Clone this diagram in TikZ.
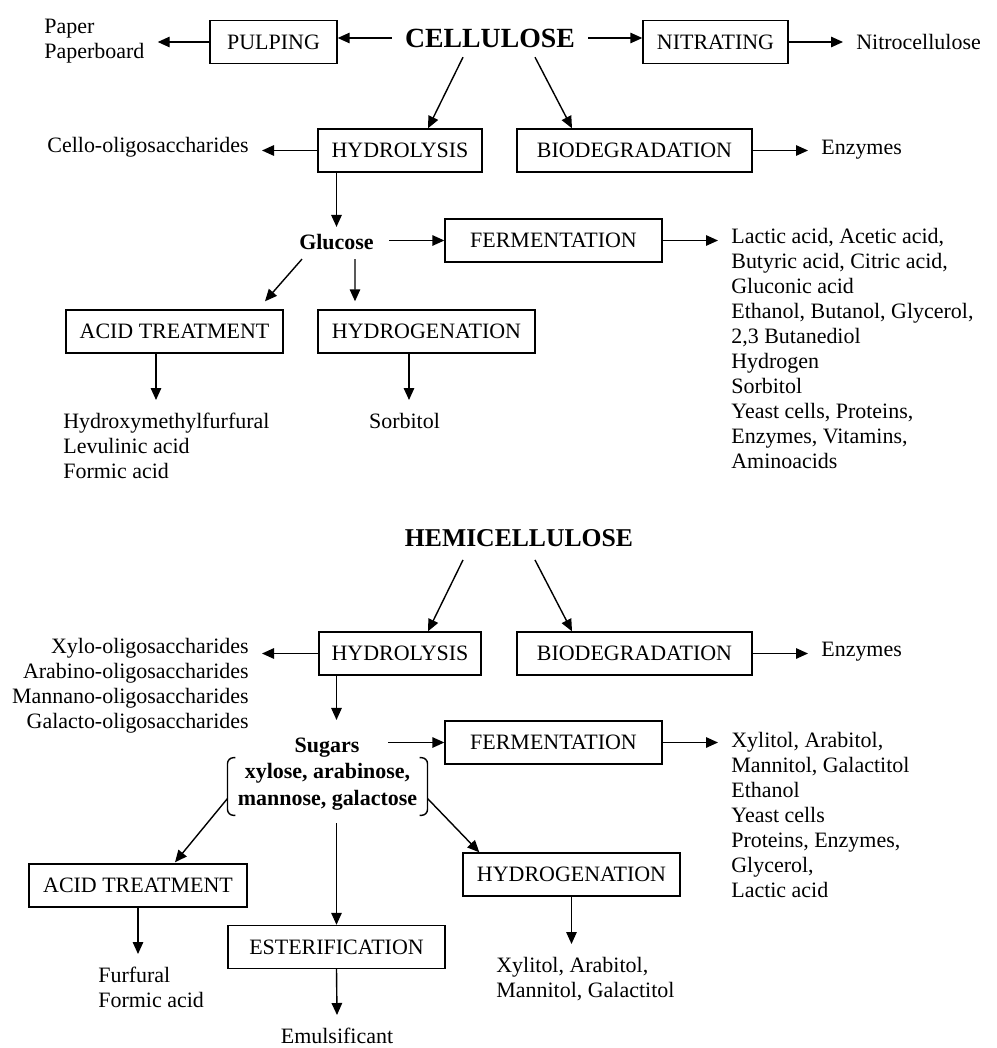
\documentclass[tikz,border=0pt]{standalone}
\usepackage{fontspec}
\setmainfont{Liberation Serif}
\usetikzlibrary{arrows.meta,calc,positioning}

\begin{document}
\begin{tikzpicture}[x=0.02cm, y=-0.02cm,
  every node/.style={font=\fontsize{12.5}{14.2}\selectfont},
  proc/.style={draw, line width=0.8pt, minimum height=0.86cm, minimum width=#1, inner xsep=0pt},
  prod/.style={inner sep=0.26cm, align=left},
  title/.style={font=\fontsize{15.8}{18}\selectfont\bfseries, inner xsep=0.26cm, inner ysep=0.19cm},
  sugar/.style={font=\fontsize{12.5}{15.3}\selectfont\bfseries, inner xsep=0.3cm, inner ysep=0.14cm},
  arr/.style={-{Triangle[length=0.24cm,width=0.21cm]}, line width=0.8pt}]
\useasboundingbox (0,0) rectangle (997,1048);

\node[title] (cell) at (490,38) {CELLULOSE};
\node[proc=2.54cm] (pulp) at (273.5,42) {PULPING};
\node[proc=2.9cm] (nitr) at (715.5,42) {NITRATING};
\node[prod, anchor=west] (paper) at (31,41) {Paper\\Paperboard};
\node[prod, anchor=west] (nitrocell) at (843,42) {Nitrocellulose};
\node[proc=3.28cm] (hyd1) at (400,150.5) {HYDROLYSIS};
\node[proc=4.7cm] (bio1) at (634.5,150.5) {BIODEGRADATION};
\node[prod, anchor=east] (cello) at (262,147) {Cello-oligosaccharides};
\node[prod, anchor=west] (enz1) at (808,150) {Enzymes};
\node[sugar] (gluc) at (336.5,242) {Glucose};
\node[proc=4.34cm] (ferm1) at (553.5,240.5) {FERMENTATION};
\node[prod, anchor=north west] (list1) at (718,215) {Lactic acid, Acetic acid,\\Butyric acid, Citric acid,\\Gluconic acid\\Ethanol, Butanol, Glycerol,\\2,3 Butanediol\\Hydrogen\\Sorbitol\\Yeast cells, Proteins,\\Enzymes, Vitamins,\\Aminoacids};
\node[proc=4.34cm] (acid1) at (174.5,331.5) {ACID TREATMENT};
\node[proc=4.34cm] (hydg1) at (426.5,331.5) {HYDROGENATION};
\node[prod, anchor=north west] (hmf) at (50,400) {Hydroxymethylfurfural\\Levulinic acid\\Formic acid};
\node[prod, anchor=north] (sorb) at (404.5,400) {Sorbitol};
\coordinate (a1) at ($(acid1.south)+(-18.5,0)$);
\coordinate (h1) at ($(hydg1.south)+(-17.5,0)$);

\draw[arr] (cell.west) -- (cell.west -| pulp.east);
\draw[arr] (pulp.west) -- (pulp.west -| paper.east);
\draw[arr] (cell.east) -- (cell.east -| nitr.west);
\draw[arr] (nitr.east) -- (nitr.east -| nitrocell.west);
\draw[arr] ($(cell.south)+(-27,0)$) -- ($(hyd1.north)+(28,0)$);
\draw[arr] ($(cell.south)+(45,0)$) -- ($(bio1.north)+(-62.5,0)$);
\draw[arr] (hyd1.west) -- (hyd1.west -| cello.east);
\draw[arr] (bio1.east) -- (bio1.east -| enz1.west);
\draw[arr] (gluc.north |- hyd1.south) -- (gluc.north);
\draw[arr] (ferm1.west -| gluc.east) -- (ferm1.west);
\draw[arr] (ferm1.east) -- (ferm1.east -| list1.west);
\draw[arr] ($(gluc.south)+(-34.5,2)$) -- ($(acid1.north)+(90.5,-8)$);
\draw[arr] ($(gluc.south)+(18.5,2)$) -- ($(hydg1.north)+(-71.5,-8)$);
\draw[arr] (a1) -- (a1 |- hmf.north);
\draw[arr] (h1) -- (h1 |- sorb.north);

\node[title, font=\fontsize{14.6}{17}\selectfont\bfseries, inner ysep=0.26cm] (hemi) at (519,538) {HEMICELLULOSE};
\node[proc=3.24cm] (hyd2) at (400,653.5) {HYDROLYSIS};
\node[proc=4.7cm] (bio2) at (634.5,653.5) {BIODEGRADATION};
\node[prod, anchor=north east, align=right] (oligo) at (262,625) {Xylo-oligosaccharides\\Arabino-oligosaccharides\\Mannano-oligosaccharides\\Galacto-oligosaccharides};
\node[prod, anchor=west] (enz2) at (808,652) {Enzymes};
\node[sugar, inner xsep=0.57cm, inner ysep=0.36cm] (sug) at (327,748) {Sugars};
\node[sugar, inner xsep=0.2cm, inner ysep=0.1cm, align=center] (suglist) at (327.5,786.5) {xylose, arabinose,\\mannose, galactose};
\node[proc=4.34cm] (ferm2) at (553.5,742.5) {FERMENTATION};
\node[prod, anchor=north west] (list2) at (718,719) {Xylitol, Arabitol,\\Mannitol, Galactitol\\Ethanol\\Yeast cells\\Proteins, Enzymes,\\Glycerol,\\Lactic acid};
\node[proc=4.36cm] (acid2) at (138,885.5) {ACID TREATMENT};
\node[proc=4.34cm] (est) at (336.5,947) {ESTERIFICATION};
\node[proc=4.34cm] (hydg2) at (571.5,874.5) {HYDROGENATION};
\node[prod, anchor=north west] (furf) at (85,954) {Furfural\\Formic acid};
\node[prod, anchor=north] (emul) at (337,1015) {Emulsificant};
\node[prod, anchor=north west] (xylit) at (483,944) {Xylitol, Arabitol,\\Mannitol, Galactitol};

\draw[line width=0.8pt, rounded corners=0.12cm] ($(suglist.north west)+(8,0)$) -- (suglist.north west) -- (suglist.south west) -- ($(suglist.south west)+(8,0)$);
\draw[line width=0.8pt, rounded corners=0.12cm] ($(suglist.north east)+(-8,0)$) -- (suglist.north east) -- (suglist.south east) -- ($(suglist.south east)+(-8,0)$);

\draw[arr] ($(hemi.south)+(-56,0)$) -- ($(hyd2.north)+(28,0)$);
\draw[arr] ($(hemi.south)+(16,0)$) -- ($(bio2.north)+(-62.5,0)$);
\draw[arr] (hyd2.west) -- (hyd2.west -| oligo.east);
\draw[arr] (bio2.east) -- (bio2.east -| enz2.west);
\draw[arr] (hyd2.south -| est.north) -- (sug.north -| est.north);
\draw[arr] (ferm2.west -| sug.east) -- (ferm2.west);
\draw[arr] (ferm2.east) -- (ferm2.east -| list2.west);
\draw[arr] ($(suglist.west)+(0,12)$) -- ($(acid2.north)+(37,-1)$);
\draw[arr] ($(suglist.east)+(0,12)$) -- ($(hydg2.north west)+(17,0)$);
\draw[arr, shorten <=0.16cm] (suglist.south -| est.north) -- (est.north);
\draw[arr] (acid2.south) -- (acid2.south |- furf.north);
\draw[arr] (est.south) -- (emul.north);
\draw[arr] (hydg2.south) -- (hydg2.south |- xylit.north);
\end{tikzpicture}
\end{document}
